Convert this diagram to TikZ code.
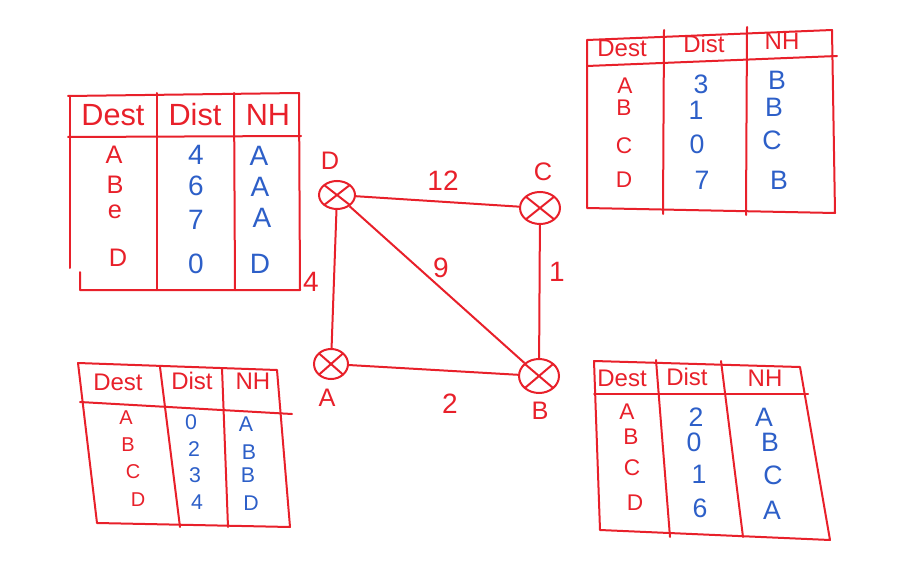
\documentclass[tikz,border=0pt]{standalone}
\usepackage{fontspec}
\setmainfont{Liberation Sans}
\usetikzlibrary{shapes.geometric}
\definecolor{pen}{RGB}{232,32,42}
\definecolor{ink}{RGB}{45,95,200}
\newcommand{\fs}[1]{\fontsize{#1}{#1}\selectfont}
\begin{document}
\begin{tikzpicture}[x=0.75pt,y=-0.75pt,
  rule/.style={draw=pen, line width=1.5pt, line join=round, line cap=round},
  router/.style={ellipse, draw=pen, line width=1.5pt, inner sep=0pt,
    path picture={\draw[pen, line width=1.5pt] (path picture bounding box.north west) -- (path picture bounding box.south east)
      (path picture bounding box.north east) -- (path picture bounding box.south west);}},
  link/.style={draw=pen, line width=1.5pt},
  rlabel/.style={text=pen, font=\fs{19}, inner sep=0pt},
  wlabel/.style={text=pen, font=\fs{21}, inner sep=0pt},
  hdA/.style={text=pen, font=\fs{23}, inner sep=0pt},
  bodyA/.style={text=pen, font=\fs{19}, inner sep=0pt},
  valA/.style={text=ink, font=\fs{21}, inner sep=0pt},
  hdB/.style={text=pen, font=\fs{18}, inner sep=0pt},
  bodyB/.style={text=pen, font=\fs{17}, inner sep=0pt},
  valB/.style={text=ink, font=\fs{20}, inner sep=0pt},
  bodyC/.style={text=pen, font=\fs{15}, inner sep=0pt},
  valC/.style={text=ink, font=\fs{16}, inner sep=0pt},
]
\useasboundingbox (0,0) rectangle (924,563);

% ---------- routers ----------
\node[router, minimum width=27pt, minimum height=21pt] (D) at (337,195) {};
\node[router, minimum width=30pt, minimum height=24pt] (C) at (540,208) {};
\node[router, minimum width=25.5pt, minimum height=22.5pt] (A) at (331,364) {};
\node[router, minimum width=30pt, minimum height=25.5pt] (B) at (539,376) {};

\node[rlabel] (lD) at (330,161) {D};
\node[rlabel] (lC) at (543,172) {C};
\node[rlabel] (lA) at (327,398) {A};
\node[rlabel] (lB) at (540,411) {B};

\draw[link] (D) -- (C);
\draw[link] (C) -- (B);
\draw[link] (D) -- (B);
\draw[link] (D) -- (A);
\draw[link] (A) -- (B);

\node[wlabel] (w12) at (443,181) {12};
\node[wlabel] (w1) at (557,272) {1};
\node[wlabel] (w9) at (441,268) {9};
\node[wlabel] (w4) at (311,282) {4};
\node[wlabel] (w2) at (450,404) {2};

% ---------- table of D (top left) ----------
\draw[rule] (68,96) -- (299,93) -- (300,290) -- (80,290) -- (80,272);
\draw[rule] (70,96) -- (70,268);
\draw[rule] (68,137) -- (301,136);
\draw[rule] (157,93) -- (157,290);
\draw[rule] (234,93) -- (235,290);
\node[hdA] (tDh1) at (113,115) {Dest};
\node[hdA] (tDh2) at (195,115) {Dist};
\node[hdA] (tDh3) at (268,115) {NH};
\node[bodyA] (tDa) at (114,155) {A};
\node[bodyA] (tDb) at (115,185) {B};
\node[bodyA] (tDc) at (115,212) {e};
\node[bodyA] (tDd) at (118,258) {D};
\node[valA] (tDa2) at (196,155) {4};
\node[valA] (tDb2) at (196,186) {6};
\node[valA] (tDc2) at (196,220) {7};
\node[valA] (tDd2) at (196,264) {0};
\node[valA] (tDa3) at (259,156) {A};
\node[valA] (tDb3) at (260,187) {A};
\node[valA] (tDc3) at (262,218) {A};
\node[valA] (tDd3) at (260,264) {D};

% ---------- table of C (top right) ----------
\draw[rule] (587,40) -- (832,30) -- (835,213) -- (587,208) -- cycle;
\draw[rule] (587,66) -- (837,56);
\draw[rule] (664,30) -- (663,214);
\draw[rule] (747,27) -- (746,215);
\node[hdB] (tCh1) at (622,48) {Dest};
\node[hdB] (tCh2) at (704,44) {Dist};
\node[hdB] (tCh3) at (782,41) {NH};
\node[bodyB] (tCa) at (625,86) {A};
\node[bodyB] (tCb) at (624,108) {B};
\node[bodyB] (tCc) at (624,146) {C};
\node[bodyB] (tCd) at (624,180) {D};
\node[valB] (tCa2) at (701,84) {3};
\node[valB] (tCb2) at (696,110) {1};
\node[valB] (tCc2) at (697,144) {0};
\node[valB] (tCd2) at (702,180) {7};
\node[valB] (tCa3) at (777,80) {B};
\node[valB] (tCb3) at (774,107) {B};
\node[valB] (tCc3) at (772,140) {C};
\node[valB] (tCd3) at (779,180) {B};

% ---------- table of A (bottom left) ----------
\draw[rule] (78,363) -- (277,370) -- (290,527) -- (97,523) -- cycle;
\draw[rule] (80,402) -- (292,414);
\draw[rule] (160,367) -- (180,527);
\draw[rule] (222,368) -- (228,527);
\node[hdB] (tAh1) at (118,382) {Dest};
\node[hdB] (tAh2) at (192,381) {Dist};
\node[hdB] (tAh3) at (253,381) {NH};
\node[bodyC] (tAa) at (126,418) {A};
\node[bodyC] (tAb) at (128,445) {B};
\node[bodyC] (tAc) at (133,472) {C};
\node[bodyC] (tAd) at (138,500) {D};
\node[valC] (tAa2) at (191,422) {0};
\node[valC] (tAb2) at (194,449) {2};
\node[valC] (tAc2) at (195,475) {3};
\node[valC] (tAd2) at (197,502) {4};
\node[valC] (tAa3) at (246,424) {A};
\node[valC] (tAb3) at (249,452) {B};
\node[valC] (tAc3) at (248,475) {B};
\node[valC] (tAd3) at (251,503) {D};

% ---------- table of B (bottom right) ----------
\draw[rule] (594,361) -- (800,367) -- (830,540) -- (600,530) -- cycle;
\draw[rule] (594,394) -- (808,394);
\draw[rule] (656,360) -- (670,537);
\draw[rule] (721,361) -- (743,537);
\node[hdB] (tBh1) at (622,378) {Dest};
\node[hdB] (tBh2) at (687,377) {Dist};
\node[hdB] (tBh3) at (765,378) {NH};
\node[bodyB] (tBa) at (627,412) {A};
\node[bodyB] (tBb) at (631,437) {B};
\node[bodyB] (tBc) at (632,468) {C};
\node[bodyB] (tBd) at (635,503) {D};
\node[valB] (tBa2) at (696,417) {2};
\node[valB] (tBb2) at (694,442) {0};
\node[valB] (tBc2) at (699,474) {1};
\node[valB] (tBd2) at (700,508) {6};
\node[valB] (tBa3) at (764,417) {A};
\node[valB] (tBb3) at (770,442) {B};
\node[valB] (tBc3) at (773,475) {C};
\node[valB] (tBd3) at (772,510) {A};
\end{tikzpicture}
\end{document}
